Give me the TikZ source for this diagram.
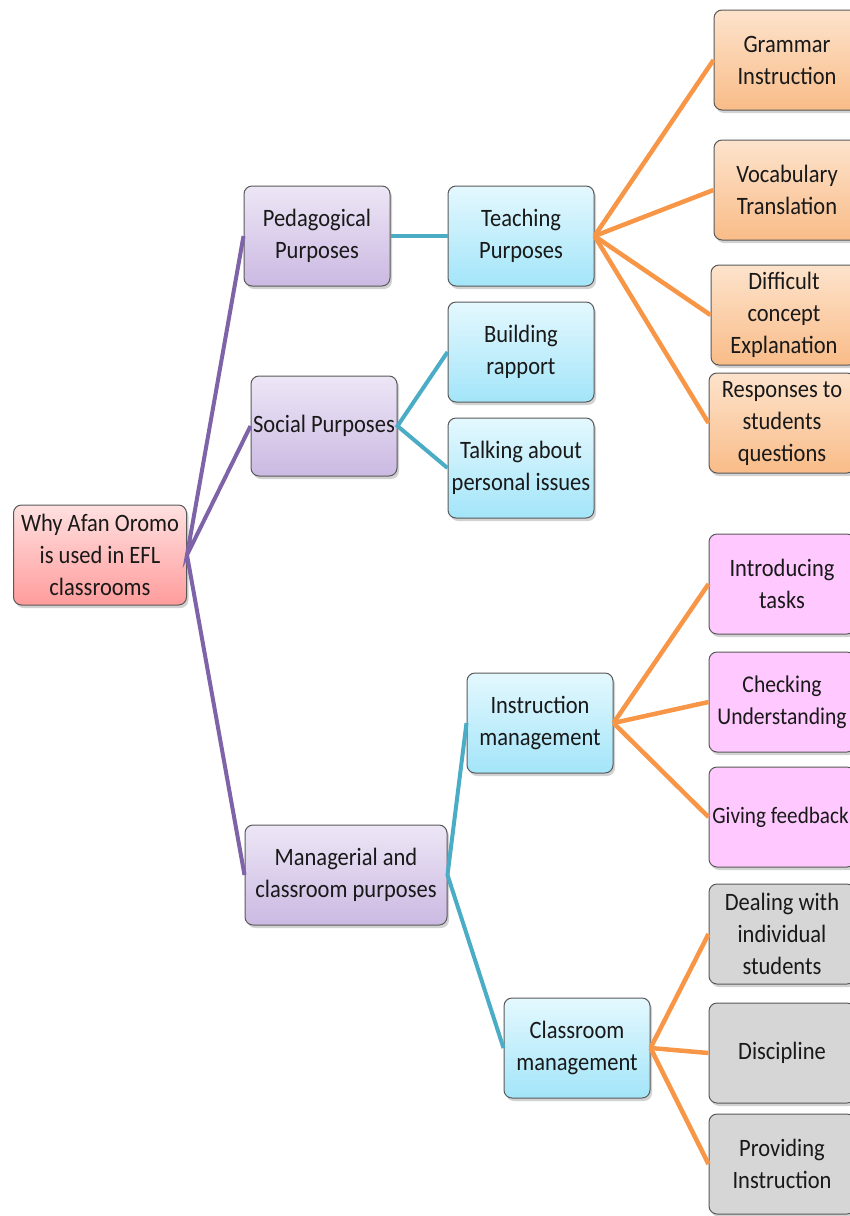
\documentclass[tikz,border=0pt]{standalone}
\usepackage{fontspec}
\setmainfont{Carlito}[FakeStretch=0.9]
\usetikzlibrary{shadows}
\definecolor{lnpurple}{HTML}{7F63A8}
\definecolor{lnteal}{HTML}{4BACC6}
\definecolor{lnorange}{HTML}{F79646}
\definecolor{rosetop}{HTML}{FFE0E0}
\definecolor{rosebot}{HTML}{FF9C9C}
\definecolor{lilactop}{HTML}{EDE6F6}
\definecolor{lilacbot}{HTML}{CBB9E2}
\definecolor{skytop}{HTML}{E4F8FE}
\definecolor{skybot}{HTML}{A3E5F9}
\definecolor{peachtop}{HTML}{FDE3CC}
\definecolor{peachbot}{HTML}{F9BC88}
\definecolor{pinkfill}{HTML}{FFC8FF}
\definecolor{greyfill}{HTML}{D6D6D6}
\tikzset{
  box/.style = {draw=black!65, line width=1pt, rounded corners=8pt, align=center,
    minimum width=146pt, minimum height=100pt, inner sep=1pt, text=black!90,
    font=\fontsize{25}{32}\selectfont,
    drop shadow={shadow xshift=2pt, shadow yshift=-3pt, fill=black!35}},
  rootbox/.style = {box, minimum width=173pt, top color=rosetop, bottom color=rosebot},
  purplebox/.style = {box, top color=lilactop, bottom color=lilacbot},
  bluebox/.style = {box, top color=skytop, bottom color=skybot},
  orangebox/.style = {box, top color=peachtop, bottom color=peachbot},
  pinkbox/.style = {box, fill=pinkfill},
  graybox/.style = {box, fill=greyfill},
  purpleline/.style = {lnpurple, line width=4pt},
  tealline/.style = {lnteal, line width=4pt},
  orangeline/.style = {lnorange, line width=4.5pt}
}

\begin{document}
\begin{tikzpicture}[x=1pt, y=-1pt]
\useasboundingbox (0,0) rectangle (850,1216);
\clip (0,0) rectangle (850,1216);

% root and first level
\node[rootbox] (why) at (100,555) {Why Afan Oromo\\is used in EFL\\classrooms};
\node[purplebox] (ped) at (317,236) {Pedagogical\\Purposes};
\node[purplebox] (soc) at (324,426) {Social Purposes};
\node[purplebox, minimum width=202pt] (man) at (346,875) {Managerial and\\classroom purposes};

% second level
\node[bluebox] (teach) at (521,236) {Teaching\\Purposes};
\node[bluebox] (rapp) at (521,352) {Building\\rapport};
\node[bluebox] (talk) at (521,468) {Talking about\\personal issues};
\node[bluebox] (instr) at (540,723) {Instruction\\management};
\node[bluebox] (class) at (577,1048) {Classroom\\management};

% teaching purposes
\node[orangebox] (gram) at (787,60) {Grammar\\Instruction};
\node[orangebox] (voc) at (787,190) {Vocabulary\\Translation};
\node[orangebox] (diff) at (784,315) {Difficult\\concept\\Explanation};
\node[orangebox] (resp) at (782,423) {Responses to\\students\\questions};

% instruction management
\node[pinkbox] (intro) at (782,584) {Introducing\\tasks};
\node[pinkbox, font=\fontsize{24}{32}\selectfont] (check) at (782,702) {Checking\\Understanding};
\node[pinkbox, font=\fontsize{23.5}{32}\selectfont] (feed) at (782,817) {\hspace*{-3pt}Giving feedback};

% classroom management
\node[graybox] (deal) at (782,934) {Dealing with\\individual\\students};
\node[graybox] (disc) at (782,1053) {Discipline};
\node[graybox] (prov) at (782,1164) {Providing\\Instruction};

\draw[purpleline] (ped.west) -- (why.east) -- (soc.west);
\draw[purpleline] (why.east) -- (man.west);

\draw[tealline] (ped.east) -- (teach.west);
\draw[tealline] (rapp.west) -- (soc.east) -- (talk.west);
\draw[tealline] (instr.west) -- (man.east) -- (class.west);

\draw[orangeline] (teach.east) -- (gram.west);
\draw[orangeline] (teach.east) -- (voc.west);
\draw[orangeline] (teach.east) -- (diff.west);
\draw[orangeline] (teach.east) -- (resp.west);

\draw[orangeline] (instr.east) -- (intro.west);
\draw[orangeline] (instr.east) -- (check.west);
\draw[orangeline] (instr.east) -- (feed.west);

\draw[orangeline] (class.east) -- (deal.west);
\draw[orangeline] (class.east) -- (disc.west);
\draw[orangeline] (class.east) -- (prov.west);

\end{tikzpicture}
\end{document}
